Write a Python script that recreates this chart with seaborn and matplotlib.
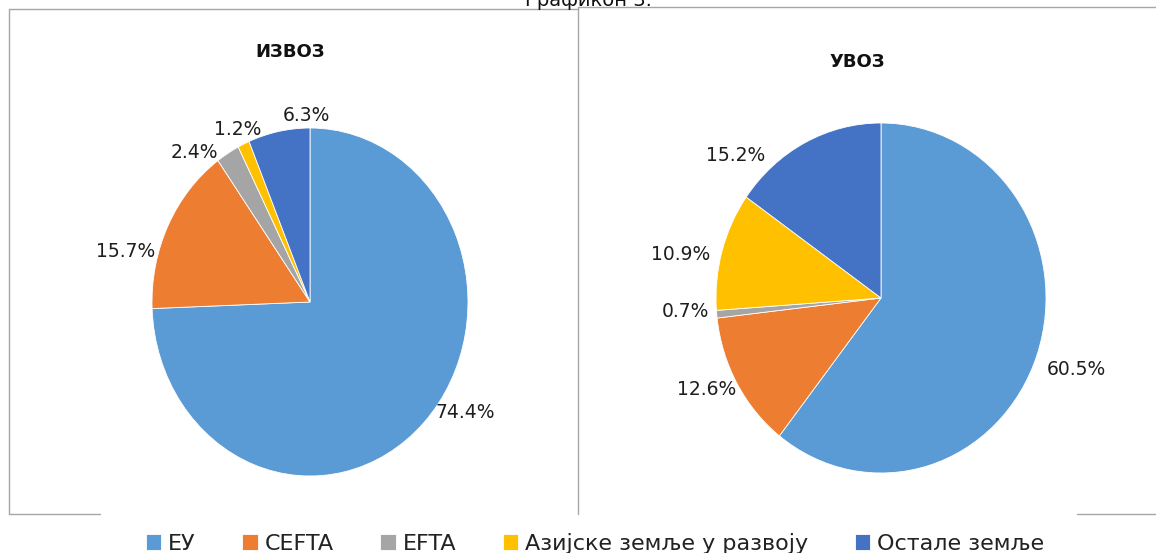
import numpy as np
import matplotlib
matplotlib.use("Agg")
import matplotlib.pyplot as plt
from matplotlib.lines import Line2D
import seaborn as sns

# data
categories = ["ЕУ", "CEFTA", "EFTA", "Азијске земље у развоју", "Остале земље"]
export_share = [74.4, 15.7, 2.4, 1.2, 6.3]
import_share = [60.5, 12.6, 0.7, 10.9, 15.2]
colors = ["#5B9BD5", "#ED7D31", "#A5A5A5", "#FFC000", "#4472C4"]

sns.set_theme(style="white")
plt.rcParams["font.family"] = ["DejaVu Sans"]

W, H = 1156, 553
fig = plt.figure(figsize=(W / 100, H / 100), dpi=100)
fig.patch.set_facecolor("white")


def px_axes(x0, y0, x1, y1):
    # pixel box (top-left origin) -> figure axes
    return fig.add_axes([x0 / W, 1 - y1 / H, (x1 - x0) / W, (y1 - y0) / H])


def draw_pie(ax, values, title, title_xy, label_r, label_shift):
    labels = [f"{v:.1f}%" for v in values]
    wedges, texts = ax.pie(values, colors=colors, startangle=90, counterclock=False,
                           labels=labels, labeldistance=1.15,
                           wedgeprops=dict(linewidth=0.6, edgecolor="white"),
                           textprops=dict(fontsize=13.5, color="#1e1e1e"))
    ax.set_aspect("auto")
    ax.set_xlim(-1, 1)
    ax.set_ylim(-1, 1)
    ax.axis("off")
    for w, t, r, s in zip(wedges, texts, label_r, label_shift):
        ang = np.deg2rad((w.theta1 + w.theta2) / 2 + s)
        t.set_position((r * np.cos(ang), r * np.sin(ang)))
        t.set_ha("center")
        t.set_va("center")
    fig.text(title_xy[0] / W, 1 - title_xy[1] / H, title, ha="center", va="center",
             fontsize=13, fontweight="bold", color="#111111")
    return wedges


ax1 = px_axes(152, 128, 468, 476)
wedges = draw_pie(ax1, export_share, "ИЗВОЗ", (290, 52),
                  [1.17, 1.20, 1.13, 1.09, 1.07], [11, 12, 9, 0, -10])

ax2 = px_axes(716, 123, 1046, 473)
draw_pie(ax2, import_share, "УВОЗ", (857, 62),
         [1.25, 1.18, 1.19, 1.24, 1.20], [0, -3, -1.5, 4, 20])

# panel frames
line_kw = dict(color="#A6A6A6", linewidth=1.0, transform=fig.transFigure)
def seg(x0, y0, x1, y1):
    fig.add_artist(Line2D([x0 / W, x1 / W], [1 - y0 / H, 1 - y1 / H], **line_kw))

seg(9, 9, 578, 9)
seg(9, 9, 9, 514)
seg(578, 7, 578, 514)
seg(578, 7, 1156, 7)
seg(9, 514, 100, 514)
seg(1077, 514, 1156, 514)

# caption above the panels, cropped at the top edge as in the source
fig.text(588 / W, 1 - 0 / H, "Графикон 3.", ha="center", va="center",
         fontsize=14, color="#111111")

fig.legend(wedges, categories, loc="center", bbox_to_anchor=(595 / W, 1 - 543 / H),
           ncol=5, frameon=False, fontsize=16, handlelength=0.7, handleheight=0.7,
           handletextpad=0.3, columnspacing=2.1, labelcolor="#222222")

fig.savefig("out.png", dpi=100, facecolor="white")
